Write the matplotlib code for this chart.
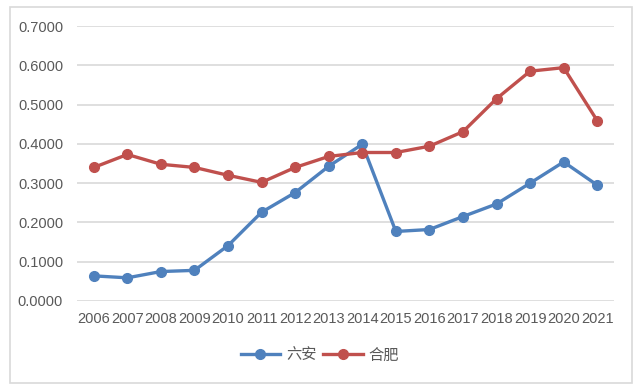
import matplotlib
matplotlib.use("Agg")
import matplotlib.pyplot as plt
from matplotlib.patches import Rectangle

plt.rcParams['font.family'] = ['Liberation Sans', 'Noto Sans CJK SC', 'DejaVu Sans']

years = [str(y) for y in range(2006, 2022)]
luan = [0.064, 0.059, 0.075, 0.078, 0.141, 0.226, 0.276, 0.343, 0.399,
        0.177, 0.182, 0.215, 0.247, 0.300, 0.354, 0.295]
hefei = [0.340, 0.373, 0.348, 0.340, 0.320, 0.302, 0.340, 0.368, 0.378,
         0.378, 0.394, 0.431, 0.515, 0.585, 0.594, 0.459]
yticks = [0.0, 0.1, 0.2, 0.3, 0.4, 0.5, 0.6, 0.7]

blue = '#4F81BD'
red = '#C0504D'
txt = '#595959'

fig = plt.figure(figsize=(6.43, 3.9), dpi=100)
fig.patches.append(Rectangle((10 / 643, 1 - 383 / 390), 622 / 643, 376 / 390,
                             transform=fig.transFigure, fill=False,
                             edgecolor='#D9D9D9', linewidth=1.2))

ax = fig.add_axes([77 / 643, 1 - 301 / 390, 537 / 643, 275 / 390])
x = list(range(len(years)))
ax.plot(x, luan, color=blue, lw=2.4, marker='o', ms=7, label='六安', zorder=3)
ax.plot(x, hefei, color=red, lw=2.4, marker='o', ms=7, label='合肥', zorder=3)

ax.set_xlim(-0.5, len(years) - 0.5)
ax.set_ylim(0, 0.7)
ax.set_yticks(yticks)
ax.set_yticklabels([f'{v:.4f}' for v in yticks])
ax.set_xticks(x)
ax.set_xticklabels(years)
ax.grid(axis='y', color='#D9D9D9', lw=1.2)
ax.set_axisbelow(True)
for s in ax.spines.values():
    s.set_visible(False)
ax.tick_params(length=0, colors=txt, labelsize=10.5)
ax.tick_params(axis='y', pad=10)
ax.tick_params(axis='x', pad=8)

leg = fig.legend(loc='center', bbox_to_anchor=(320 / 643, 1 - 355 / 390), ncol=2,
                 frameon=False, handlelength=2.6, columnspacing=0.4,
                 handletextpad=0.4, prop={'family': ['Noto Sans CJK SC'], 'size': 11})
for t in leg.get_texts():
    t.set_color(txt)

fig.savefig('out.png', dpi=100)
